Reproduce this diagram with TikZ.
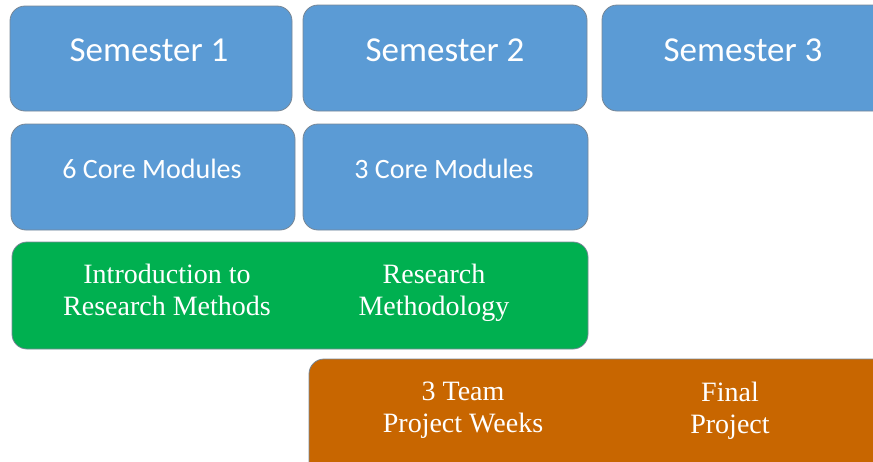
\documentclass[tikz,border=0pt]{standalone}
\usepackage{fontspec}
\setmainfont{Liberation Serif}
\newfontfamily\calib{Carlito}
\definecolor{semblue}{RGB}{91,155,213}
\definecolor{resgreen}{RGB}{0,176,80}
\definecolor{projorange}{RGB}{200,102,0}
\definecolor{edgegray}{RGB}{120,135,150}
\tikzset{
	plan/.style={draw=edgegray, line width=0.8pt, rounded corners=15pt},
	semtext/.style={text=white, font=\calib\fontsize{35}{42}\selectfont},
	modtext/.style={text=white, font=\calib\fontsize{28}{34}\selectfont},
	serif/.style={text=white, align=center, text depth=7pt, font=\fontsize{28}{32}\selectfont}
}
\begin{document}
\begin{tikzpicture}[x=1pt, y=-1pt]
	\useasboundingbox (0,0) rectangle (873,461);

	% semester row
	\fill[semblue, plan] (10,6) rectangle (292,111);
	\fill[semblue, plan] (303,5) rectangle (587,111);
	\fill[semblue, plan] (602,5) rectangle (900,111);

	% core modules
	\fill[semblue, plan] (11,124) rectangle (295,230);
	\fill[semblue, plan] (303,124) rectangle (588,230);

	% research methods
	\fill[resgreen, plan] (12,242) rectangle (588,349);

	% projects
	\fill[projorange, plan] (309,359) rectangle (890,480);

	\node[semtext] (sem1) at (149,50) {Semester 1};
	\node[semtext] (sem2) at (445,50) {Semester 2};
	\node[semtext] (sem3) at (743,50) {Semester 3};

	\node[modtext] (core6) at (152,169) {6 Core Modules};
	\node[modtext] (core3) at (444,169) {3 Core Modules};

	\node[serif] (intro) at (167,293) {Introduction to\\Research Methods};
	\node[serif] (method) at (434,293) {Research\\Methodology};

	\node[serif] (team) at (463,411) {3 Team\\Project Weeks};
	\node[serif] (final) at (730,411) {Final\\Project};
\end{tikzpicture}
\end{document}
